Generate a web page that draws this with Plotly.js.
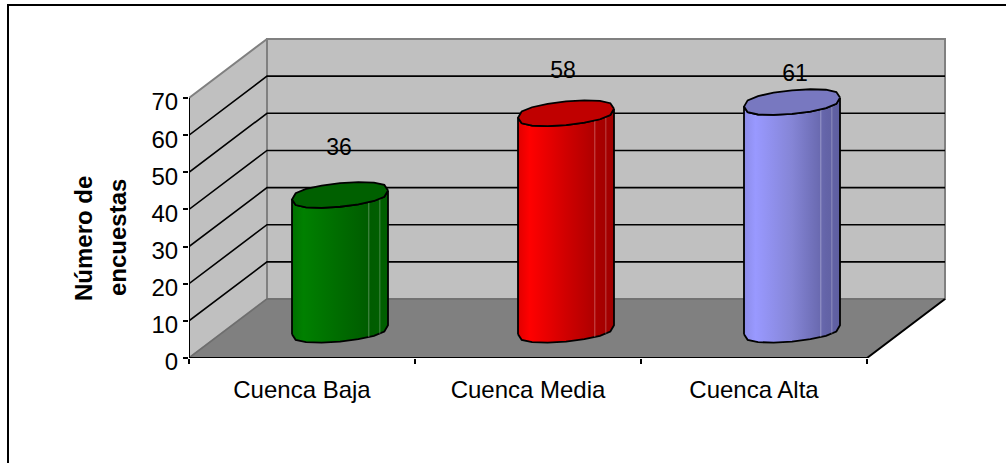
<!DOCTYPE html>
<html><head><meta charset="utf-8">
<script src="https://cdn.plot.ly/plotly-3.0.1.min.js"></script>
<style>html,body{margin:0;padding:0;background:#fff;overflow:hidden}</style>
</head><body><div id="chart" style="width:1006px;height:463px"></div>
<script>
// ---- data ----
const categories = ["Cuenca Baja", "Cuenca Media", "Cuenca Alta"];
const values = [36, 58, 61];
const valueTicks = [0, 10, 20, 30, 40, 50, 60, 70];
const axisTitleLines = ["Número de", "encuestas"];

// ---- styles ----
const sideColors = [
  [[0,"#007000"],[0.12,"#008000"],[0.45,"#006e00"],[0.8,"#005c00"],[1,"#006000"]],
  [[0,"#e00000"],[0.12,"#ff0000"],[0.5,"#d00000"],[0.85,"#a80000"],[1,"#a00000"]],
  [[0,"#8c8ce8"],[0.12,"#9999ff"],[0.5,"#8585d6"],[0.85,"#6464a8"],[1,"#5e5ea0"]]
];
const capColors = ["#006000", "#c00000", "#7878c0"];
const FONT = "Liberation Sans, Arial, sans-serif";

// ---- plot geometry in axis units ----
const PX_X = 226, PX_Y = 3.714;           // pixels per category / per value unit
const DX = 78 / PX_X, DY = 59 / PX_Y;     // depth of the 3-D box
const XL = -0.5, XR = 2.5, VMAX = 70;
const A = 48 / PX_X, B = 11.8 / PX_Y, SH = 4.5 / PX_Y; // cap ellipse
const BASE = 7.6, TOP = 7.9, LABEL_LIFT = [12.2, 11, 7.2], LABEL_NUDGE = [-1 / PX_X, -3 / PX_X, 3 / PX_X];
const CX_SHIFT = 38 / PX_X;

const traces = [];
function path(x, y, line, extra) {
  traces.push(Object.assign({type:"scatter", mode:"lines", x, y, hoverinfo:"skip", showlegend:false,
    cliponaxis:false, line:Object.assign({simplify:false}, line)}, extra || {}));
}
const WALL = "#c0c0c0", EDGE = "#808080", FLOOR = "#808080";
// back wall, left wall, floor
path([XL+DX,XR+DX,XR+DX,XL+DX,XL+DX],[DY,DY,VMAX+DY,VMAX+DY,DY],{color:EDGE,width:2},{fill:"toself",fillcolor:WALL});
path([XL,XL+DX,XL+DX,XL,XL],[0,DY,VMAX+DY,VMAX,0],{color:EDGE,width:2},{fill:"toself",fillcolor:WALL});
path([XL,XR,XR+DX,XL+DX,XL],[0,0,DY,DY,0],{color:FLOOR,width:1},{fill:"toself",fillcolor:FLOOR});
path([XL,XL+DX,XR+DX],[0,DY,DY],{color:"#6e6e6e",width:1.5});
// grid lines on both walls
valueTicks.filter(v => v > 0 && v < VMAX).forEach(v => {
  path([XL,XL+DX,XR+DX],[v,v+DY,v+DY],{color:"#000",width:1.6});
});
// axis lines
path([XL,XL],[0,VMAX],{color:"#000",width:2});
path([XL,XR,XR+DX],[0,0,DY],{color:"#000",width:2});

// cylinders: a fuller, sheared ellipse for the caps
function ell(cx, cy, t) {
  const s = Math.sin(t), c = Math.cos(t);
  return [cx + A*c, cy + B*Math.sign(s)*Math.pow(Math.abs(s), 0.72) + SH*c];
}
const N = 8;
values.forEach((v, i) => {
  const cx = i + CX_SHIFT, yb = BASE, yt = v + TOP;
  const xs = [], ys = [];
  for (let k = 0; k <= N; k++) { const p = ell(cx, yb, Math.PI + k*Math.PI/N); xs.push(p[0]); ys.push(p[1]); }
  for (let k = N; k >= 0; k--) { const p = ell(cx, yt, Math.PI + k*Math.PI/N); xs.push(p[0]); ys.push(p[1]); }
  xs.push(xs[0]); ys.push(ys[0]);
  path(xs, ys, {color:"#000",width:1.8}, {fill:"toself",
    fillgradient:{type:"horizontal",colorscale:sideColors[i],start:cx-A,stop:cx+A}});
  // faint facet lines near the right side
  [[0.6,0.32],[0.83,0.28]].forEach(([c,o]) => {
    const t = -Math.acos(c);
    const a = ell(cx, yb, t), b = ell(cx, yt, t);
    path([a[0],b[0]],[a[1],b[1]],{color:"rgba(255,255,255,"+o+")",width:1});
  });
  // top cap
  const cxs = [], cys = [];
  for (let k = 0; k <= 2*N; k++) { const p = ell(cx, yt, k*Math.PI/N); cxs.push(p[0]); cys.push(p[1]); }
  path(cxs, cys, {color:"#000",width:1.8}, {fill:"toself",fillcolor:capColors[i]});
  // data label
  traces.push({type:"scatter",mode:"text",x:[cx+LABEL_NUDGE[i]],y:[yt+LABEL_LIFT[i]],text:[String(v)],
    textposition:"middle center",textfont:{family:FONT,size:23,color:"#000"},
    hoverinfo:"skip",showlegend:false,cliponaxis:false});
});

const L = 189, R = 965, T = 25, Bm = 358, W = 1006, H = 463;
const pxX = p => (p - L) / (R - L), pxY = p => (Bm - p) / (Bm - T);
const titleAt = [[84, 239], [117, 238]];
const layout = {
  width:W, height:H, autosize:false, showlegend:false,
  margin:{l:L, r:W-R, t:T, b:H-Bm, pad:0},
  paper_bgcolor:"#fff", plot_bgcolor:"#fff",
  font:{family:FONT, color:"#000"},
  xaxis:{range:[XL, XL+(R-L)/PX_X], tickmode:"array", tickvals:categories.map((c,i)=>i), ticktext:categories,
    ticks:"", ticklen:0, showgrid:false, zeroline:false, showline:false,
    tickfont:{family:FONT,size:24,color:"#000"}, ticklabelstandoff:15,
    minor:{tick0:-0.5,dtick:1,ticks:"outside",ticklen:5,tickwidth:2,tickcolor:"#000",showgrid:false}},
  yaxis:{range:[0,(Bm-T)/PX_Y], tickmode:"array", tickvals:valueTicks, ticktext:valueTicks.map(String),
    ticks:"outside", ticklen:5, tickwidth:2, tickcolor:"#000", showgrid:false, zeroline:false, showline:false,
    tickfont:{family:FONT,size:24,color:"#000"}, ticklabelshift:4},
  annotations: axisTitleLines.map((s,i) => ({text:s, textangle:-90, showarrow:false,
    xref:"paper", yref:"paper", x:pxX(titleAt[i][0]), y:pxY(titleAt[i][1]), xanchor:"center", yanchor:"middle",
    font:{family:FONT,size:24,color:"#000",weight:"bold"}})),
  shapes:[
    {type:"line",xref:"paper",yref:"paper",x0:pxX(8),x1:pxX(8),y0:pxY(463),y1:pxY(5),line:{color:"#000",width:2}},
    {type:"line",xref:"paper",yref:"paper",x0:pxX(7),x1:pxX(1006),y0:pxY(5),y1:pxY(5),line:{color:"#000",width:2}}
  ]
};
Plotly.newPlot("chart", traces, layout, {displayModeBar:false, responsive:false});
</script>
</body></html>
